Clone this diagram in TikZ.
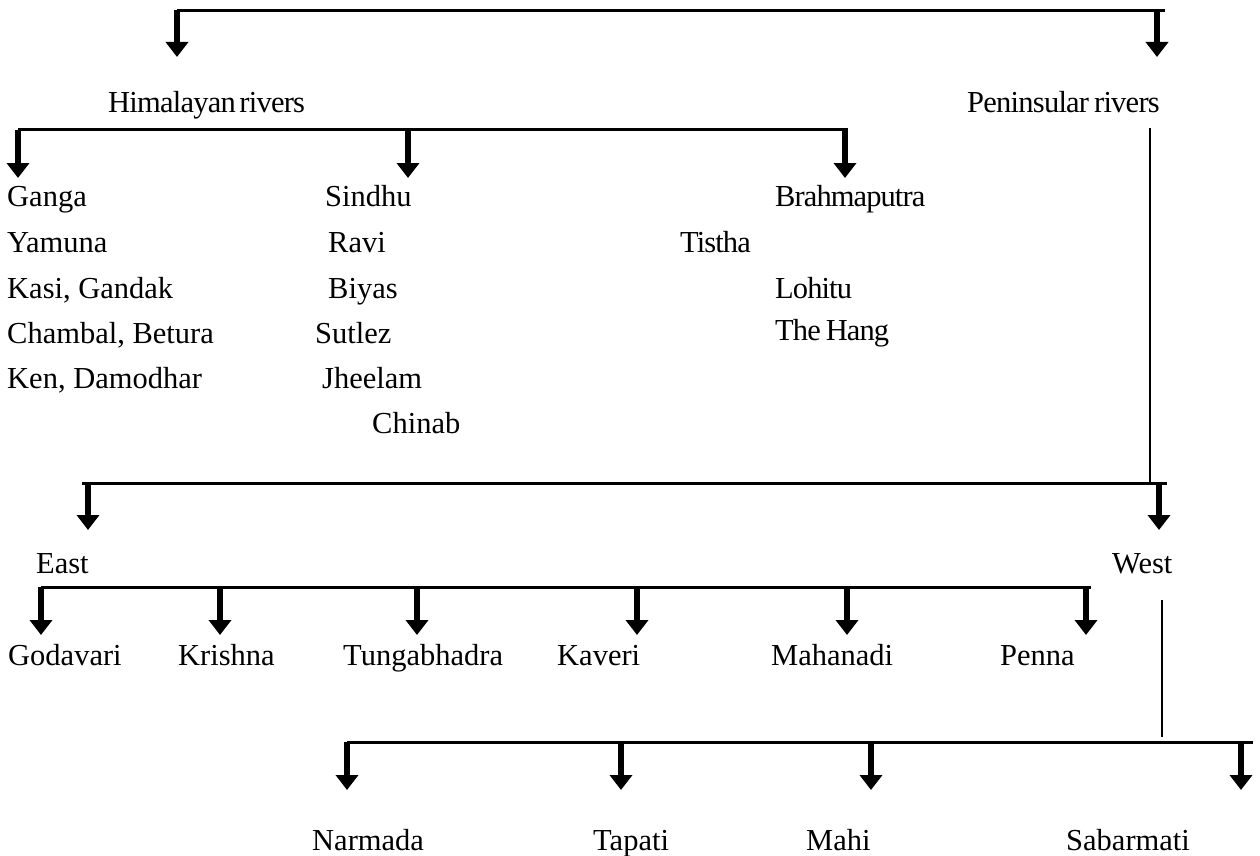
\documentclass[tikz,border=0pt]{standalone}
\usepackage{fontspec}
\setmainfont{Liberation Serif}
\usetikzlibrary{arrows.meta}
\begin{document}
\begin{tikzpicture}[x=1pt,y=-1pt,
  lbl/.style={anchor=base west, inner sep=0pt, font=\fontsize{30.5}{36}\selectfont},
  tight/.style={lbl, font=\fontsize{30.5}{36}\selectfont\addfontfeatures{LetterSpace=-3}},
  title/.style={lbl, font=\fontsize{30.5}{36}\selectfont\addfontfeatures{LetterSpace=-2.5}},
  bar/.style={line width=3pt},
  feed/.style={line width=2pt},
  drop/.style={line width=6pt, -{Triangle[width=22pt,length=15pt]}}]
\useasboundingbox (0,0) rectangle (1260,856);

% ---- labels ----
\node[title] (him)  at (108,113) {Himalayan\hspace{3.5pt}rivers};
\node[title] (pen)  at (967,113) {Peninsular\hspace{5pt}rivers};

\node[lbl] (ganga)   at (7,206) {Ganga};
\node[lbl] (yamuna)  at (7,252) {Yamuna};
\node[lbl] (kasi)    at (7,298) {Kasi, Gandak};
\node[lbl] (chambal) at (7,343) {Chambal, Betura};
\node[lbl] (ken)     at (7,388) {Ken, Damodhar};

\node[lbl] (sindhu)  at (325,206) {Sindhu};
\node[lbl] (ravi)    at (328,252) {Ravi};
\node[lbl] (biyas)   at (328,298) {Biyas};
\node[lbl] (sutlez)  at (315,343) {Sutlez};
\node[lbl] (jheelam) at (322,388) {Jheelam};
\node[lbl] (chinab)  at (372,433) {Chinab};

\node[tight] (brahma)  at (775,206) {Brahmaputra};
\node[tight] (tistha)  at (680,252) {Tistha};
\node[tight] (lohitu)  at (775,298) {Lohitu};
\node[tight] (hang)    at (775,340) {The\hspace{5pt}Hang};

\node[lbl] (east) at (36,573) {East};
\node[lbl] (west) at (1112,573) {West};

\node[lbl] (godavari) at (8,665) {Godavari};
\node[lbl] (krishna)  at (178,665) {Krishna};
\node[lbl] (tunga)    at (343,665) {Tungabhadra};
\node[lbl] (kaveri)   at (557,665) {Kaveri};
\node[lbl] (mahanadi) at (771,665) {Mahanadi};
\node[lbl] (penna)    at (1000,665) {Penna};

\node[lbl] (narmada)   at (312,850) {Narmada};
\node[lbl] (tapati)    at (593,850) {Tapati};
\node[lbl] (mahi)      at (806,850) {Mahi};
\node[lbl] (sabarmati) at (1066,850) {Sabarmati};

% ---- level 1: rivers of India ----
\coordinate (a0) at (177,10.5);
\coordinate (a1) at (1157,10.5);
\coordinate (a2) at (1165,10.5);
\coordinate (him-in) at (177,57);
\coordinate (pen-in) at (1157,57);
\draw[bar] (a0) -- (a2);
\draw[drop] (a0) -- (him-in);
\draw[drop] (a1) -- (pen-in);

% ---- level 2: Himalayan rivers ----
\coordinate (b0) at (18,130);
\coordinate (b1) at (408,130);
\coordinate (b2) at (845,130);
\coordinate (b3) at (848,130);
\coordinate (ganga-in)  at (18,178);
\coordinate (sindhu-in) at (408,178);
\coordinate (brahma-in) at (845,178);
\draw[bar] (b0) -- (b3);
\draw[drop] (b0) -- (ganga-in);
\draw[drop] (b1) -- (sindhu-in);
\draw[drop] (b2) -- (brahma-in);

% ---- level 2: Peninsular rivers ----
\coordinate (p0) at (1150,128);
\coordinate (p1) at (1150,483);
\draw[feed] (p0) -- (p1);
\coordinate (c0) at (88,483);
\coordinate (c00) at (82,483);
\coordinate (c1) at (1159,483);
\coordinate (c2) at (1167,483);
\coordinate (east-in) at (88,530);
\coordinate (west-in) at (1159,530);
\draw[bar] (c00) -- (c2);
\draw[drop] (c0) -- (east-in);
\draw[drop] (c1) -- (west-in);

% ---- level 3: east-flowing rivers ----
\coordinate (d0) at (41,587);
\coordinate (d1) at (220,587);
\coordinate (d2) at (417,587);
\coordinate (d3) at (637,587);
\coordinate (d4) at (847,587);
\coordinate (d5) at (1086,587);
\coordinate (d6) at (1091,587);
\draw[bar] (d0) -- (d6);
\foreach \k/\x in {0/41,1/220,2/417,3/637,4/847,5/1086}
  \draw[drop] (d\k) -- (\x,635);

% ---- level 3: west-flowing rivers ----
\coordinate (w0) at (1162,600);
\coordinate (w1) at (1162,737);
\draw[feed] (w0) -- (w1);
\coordinate (e0) at (347,742);
\coordinate (e1) at (621,742);
\coordinate (e2) at (871,742);
\coordinate (e3) at (1241,742);
\coordinate (e4) at (1253,742);
\draw[bar] (e0) -- (e4);
\foreach \k/\x in {0/347,1/621,2/871,3/1241}
  \draw[drop] (e\k) -- (\x,790);
\end{tikzpicture}
\end{document}
